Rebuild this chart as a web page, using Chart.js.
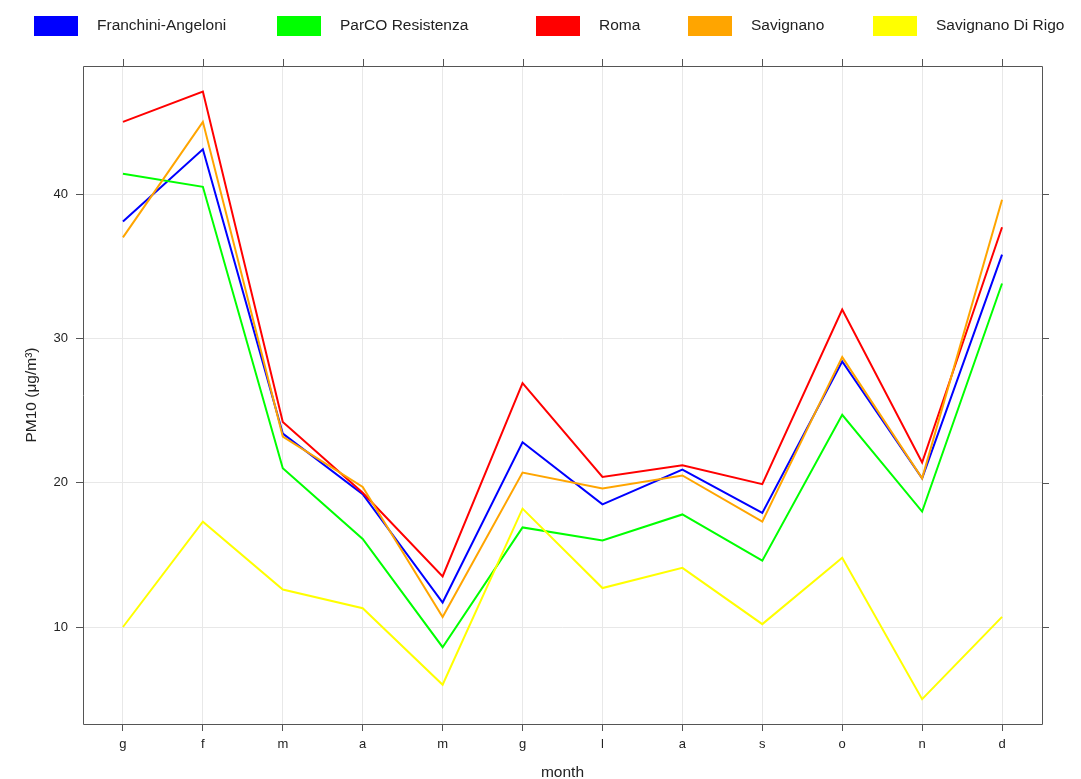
<!DOCTYPE html>
<html>
<head>
<meta charset="utf-8">
<script src="https://cdn.jsdelivr.net/npm/chart.js@4"></script>
<style>
  body { margin: 0; background: #fff; }
  canvas { display: block; }
</style>
</head>
<body>
<canvas id="myChart" width="1081" height="779"></canvas>
<script>
// month initials (italian)
var months = ['g', 'f', 'm', 'a', 'm', 'g', 'l', 'a', 's', 'o', 'n', 'd'];
var yTicks = [10, 20, 30, 40];

var stations = ['Franchini-Angeloni', 'ParCO Resistenza', 'Roma', 'Savignano', 'Savignano Di Rigo'];
var colors = ['#0000ff', '#00ff00', '#ff0000', '#ffa500', '#ffff00'];

var franchini = [38.1, 43.1, 23.4, 19.2, 11.7, 22.8, 18.5, 20.9, 17.9, 28.4, 20.3, 35.8];
var parco     = [41.4, 40.5, 21.0, 16.1, 8.6, 16.9, 16.0, 17.8, 14.6, 24.7, 18.0, 33.8];
var roma      = [45.0, 47.1, 24.2, 19.3, 13.5, 26.9, 20.4, 21.2, 19.9, 32.0, 21.4, 37.7];
var savignano = [37.0, 45.0, 23.2, 19.7, 10.7, 20.7, 19.6, 20.5, 17.3, 28.7, 20.3, 39.6];
var savRigo   = [10.0, 17.3, 12.6, 11.3, 6.0, 18.2, 12.7, 14.1, 10.2, 14.8, 5.0, 10.7];

var series = [franchini, parco, roma, savignano, savRigo];

var frameColor = '#555555';
var textColor = '#222222';
var fontFam = '"Liberation Sans", Arial, sans-serif';

// lattice style key on top
var keyPlugin = {
    id: 'key',
    afterDraw: function(chart) {
        var ctx = chart.ctx;
        var xs = [34, 277, 536, 688, 873]; // key columns
        ctx.save();
        ctx.font = '15.5px ' + fontFam;
        ctx.textBaseline = 'middle';
        ctx.textAlign = 'left';
        for (var i = 0; i < stations.length; i++) {
            ctx.fillStyle = colors[i];
            ctx.fillRect(xs[i], 16, 44, 20);
            ctx.fillStyle = textColor;
            ctx.fillText(stations[i], xs[i] + 63, 26);
        }
        ctx.restore();
    }
};

// box round the panel + ticks on top and right
var framePlugin = {
    id: 'frame',
    afterDraw: function(chart) {
        var ctx = chart.ctx;
        var a = chart.chartArea;
        var xs = chart.scales.x, ys = chart.scales.y;
        ctx.save();
        ctx.strokeStyle = frameColor;
        ctx.lineWidth = 1;
        ctx.beginPath();
        ctx.rect(Math.round(a.left) + 0.5, Math.round(a.top) + 0.5,
                 Math.round(a.right - a.left), Math.round(a.bottom - a.top));
        for (var i = 0; i < months.length; i++) {
            var px = Math.round(xs.getPixelForValue(i)) + 0.5;
            ctx.moveTo(px, a.top - 7);
            ctx.lineTo(px, a.top);
        }
        for (var j = 0; j < yTicks.length; j++) {
            var py = Math.round(ys.getPixelForValue(yTicks[j])) + 0.5;
            ctx.moveTo(a.right, py);
            ctx.lineTo(a.right + 7, py);
        }
        ctx.stroke();
        ctx.restore();
    }
};

var bgPlugin = {
    id: 'bg',
    beforeDraw: function(chart) {
        var ctx = chart.ctx;
        ctx.save();
        ctx.fillStyle = '#ffffff';
        ctx.fillRect(0, 0, chart.width, chart.height);
        ctx.restore();
    }
};

var datasets = [];
for (var k = 0; k < stations.length; k++) {
    datasets.push({
        label: stations[k],
        data: series[k],
        borderColor: colors[k],
        backgroundColor: colors[k],
        borderWidth: 2,
        pointRadius: 0,
        tension: 0,
        fill: false,
        order: stations.length - k
    });
}

var ctx = document.getElementById('myChart').getContext('2d');
var myLineChart = new Chart(ctx, {
    type: 'line',
    data: {
        labels: months,
        datasets: datasets
    },
    options: {
        responsive: false,
        animation: false,
        devicePixelRatio: 1,
        layout: { padding: { top: 66, right: 39, left: 0, bottom: 0 } },
        plugins: {
            legend: { display: false },
            tooltip: { enabled: false }
        },
        scales: {
            x: {
                type: 'category',
                offset: true,
                grid: {
                    offset: false,
                    color: '#e8e8e8',
                    lineWidth: 1,
                    tickColor: frameColor,
                    tickLength: 7,
                    drawTicks: true
                },
                border: { display: false },
                ticks: {
                    color: textColor,
                    padding: 6,
                    maxRotation: 0,
                    autoSkip: false,
                    font: { family: fontFam, size: 13 }
                },
                title: {
                    display: true,
                    text: 'month',
                    color: textColor,
                    padding: { top: 0, bottom: -3 },
                    font: { family: fontFam, size: 15.5 }
                },
                afterFit: function(scale) { scale.height = 55; }
            },
            y: {
                min: 3.28,
                max: 48.87,
                afterBuildTicks: function(scale) {
                    scale.ticks = yTicks.map(function(v) { return { value: v }; });
                },
                grid: {
                    color: '#e8e8e8',
                    lineWidth: 1,
                    tickColor: frameColor,
                    tickLength: 7
                },
                border: { display: false },
                ticks: {
                    color: textColor,
                    padding: 8,
                    font: { family: fontFam, size: 13 }
                },
                title: {
                    display: true,
                    text: 'PM10 (μg/m³)',
                    color: textColor,
                    padding: { top: 22, bottom: 0 },
                    font: { family: fontFam, size: 15.5 }
                },
                afterFit: function(scale) { scale.width = 83; }
            }
        }
    },
    plugins: [bgPlugin, keyPlugin, framePlugin]
});
</script>
</body>
</html>
